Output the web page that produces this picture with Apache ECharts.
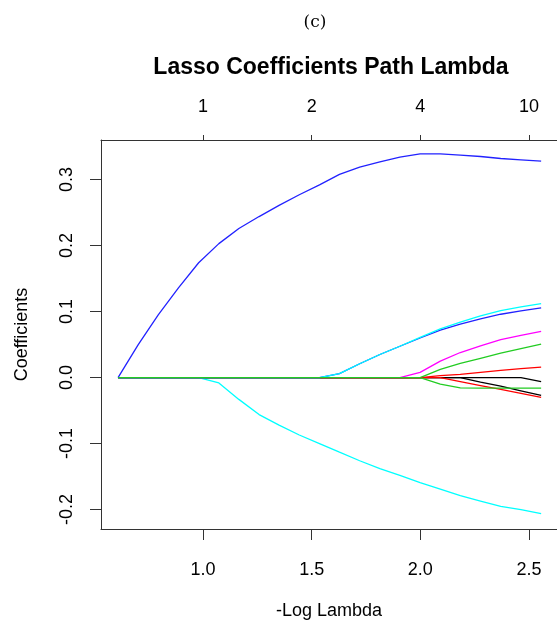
<!DOCTYPE html>
<html>
<head>
<meta charset="utf-8">
<script src="https://cdn.jsdelivr.net/npm/echarts@6/dist/echarts.min.js"></script>
<style>
html,body{margin:0;padding:0;background:#fff;}
#chart{width:557px;height:627px;}
</style>
</head>
<body>
<div id="chart"></div>
<script>
// -Log Lambda values (x)
var negLogLambda = [0.609,0.702,0.794,0.887,0.980,1.073,1.165,1.258,1.350,1.443,1.536,1.628,1.721,1.814,1.906,1.999,2.092,2.184,2.277,2.370,2.463,2.556];
// coefficient paths
var blackFlat = [0,0,0,0,0,0,0,0,0,0,0,0,0,0,0,0,0,0,0,0,0,-0.006];
var redRise   = [0,0,0,0,0,0,0,0,0,0,0,0,0,0,0,0,0.003,0.005,0.008,0.011,0.0135,0.016];
var greenRise = [0,0,0,0,0,0,0,0,0,0,0,0,0,0,0,0,0.0125,0.0217,0.0293,0.037,0.044,0.0506];
var blueTop   = [0,0.050,0.095,0.136,0.174,0.203,0.226,0.244,0.261,0.277,0.292,0.308,0.319,0.327,0.334,0.339,0.339,0.337,0.335,0.332,0.330,0.328];
var cyanNeg   = [0,0,0,0,0,-0.008,-0.033,-0.056,-0.072,-0.087,-0.100,-0.113,-0.126,-0.138,-0.148,-0.159,-0.169,-0.179,-0.187,-0.195,-0.200,-0.206];
var magenta   = [0,0,0,0,0,0,0,0,0,0,0,0,0,0,0,0.008,0.025,0.038,0.048,0.0576,0.064,0.070];
var blackFall = [0,0,0,0,0,0,0,0,0,0,0,0,0,0,0,0,0,0,-0.007,-0.013,-0.020,-0.027];
var redFall   = [0,0,0,0,0,0,0,0,0,0,0,0,0,0,0,0,0,-0.006,-0.012,-0.018,-0.024,-0.030];
var greenFall = [0,0,0,0,0,0,0,0,0,0,0,0,0,0,0,0,-0.010,-0.0155,-0.016,-0.016,-0.016,-0.016];
var blueRise  = [0,0,0,0,0,0,0,0,0,0,0,0.006,0.021,0.035,0.0475,0.060,0.072,0.081,0.089,0.096,0.101,0.1055];
var cyanRise  = [0,0,0,0,0,0,0,0,0,0,0,0.006,0.021,0.035,0.0475,0.061,0.0737,0.084,0.0935,0.1015,0.107,0.112];

var bottomTicks = [1.0,1.5,2.0,2.5];
var topTickLabels = ['1','2','4','10'];
var yTicks = [-0.2,-0.1,0.0,0.1,0.2,0.3];

var seriesList = [
  {name:'V1', data:blackFlat, color:'#000000'},
  {name:'V2', data:redRise, color:'#FF0000'},
  {name:'V3', data:greenRise, color:'#22CC22'},
  {name:'V4', data:blueTop, color:'#2222FF'},
  {name:'V5', data:cyanNeg, color:'#00FFFF'},
  {name:'V6', data:magenta, color:'#FF00FF'},
  {name:'V7', data:blackFall, color:'#000000'},
  {name:'V8', data:redFall, color:'#FF0000'},
  {name:'V10', data:blueRise, color:'#2222FF'},
  {name:'V11', data:cyanRise, color:'#00FFFF'},
  {name:'V9', data:greenFall, color:'#22CC22'}
];

var font = '"Liberation Sans", Arial, Helvetica, sans-serif';
var axisColor = '#333333';

var chart = echarts.init(document.getElementById('chart'), null, {renderer:'canvas'});
chart.setOption({
  animation:false,
  backgroundColor:'#ffffff',
  title:[
    {text:'(c)', left:310, top:9, textAlign:'center',
     textStyle:{fontFamily:'"DejaVu Serif","Liberation Serif",serif', fontWeight:'normal', fontSize:17, color:'#000'}},
    {text:'Lasso Coefficients Path Lambda', left:326, top:51, textAlign:'center',
     textStyle:{fontFamily:font, fontWeight:'bold', fontSize:23, color:'#000'}}
  ],
  grid:{left:101, top:140, right:0, bottom:98, containLabel:false, outerBoundsMode:'none'},
  xAxis:[
    {type:'value', position:'bottom', min:0.5306, max:2.629,
     axisLine:{show:true, onZero:false, lineStyle:{color:axisColor, width:1}},
     axisTick:{show:true, customValues:bottomTicks, length:11, lineStyle:{color:axisColor}},
     axisLabel:{customValues:bottomTicks, margin:32, fontFamily:font, fontSize:18, color:'#000',
       formatter:function(v){return v.toFixed(1);}},
     splitLine:{show:false},
     name:'-Log Lambda', nameLocation:'middle', nameGap:73,
     nameTextStyle:{fontFamily:font, fontSize:18, color:'#000'}},
    {type:'value', position:'top', min:0.5306, max:2.629,
     axisLine:{show:true, onZero:false, lineStyle:{color:axisColor, width:1}},
     axisTick:{show:true, customValues:bottomTicks, length:5, lineStyle:{color:axisColor}},
     axisLabel:{customValues:bottomTicks, margin:24, fontFamily:font, fontSize:18, color:'#000',
       formatter:function(v){var i=bottomTicks.indexOf(Math.round(v*10)/10);return i>=0?topTickLabels[i]:'';}},
     splitLine:{show:false}}
  ],
  yAxis:{type:'value', min:-0.2294, max:0.36,
     axisLine:{show:true, onZero:false, lineStyle:{color:axisColor, width:1}},
     axisTick:{show:true, customValues:yTicks, length:11, lineStyle:{color:axisColor}},
     axisLabel:{customValues:yTicks, rotate:90, margin:25, fontFamily:font, fontSize:18, color:'#000',
       formatter:function(v){return v.toFixed(1);}},
     splitLine:{show:false},
     name:'Coefficients', nameLocation:'middle', nameGap:70, nameRotate:90,
     nameTextStyle:{fontFamily:font, fontSize:18, color:'#000'}},
  series:seriesList.map(function(s){
    return {name:s.name, type:'line', xAxisIndex:0, showSymbol:false, symbol:'none',
      data:negLogLambda.map(function(x,i){return [x, s.data[i]];}),
      lineStyle:{color:s.color, width:1.3}, itemStyle:{color:s.color}, silent:true};
  })
});
</script>
</body>
</html>
